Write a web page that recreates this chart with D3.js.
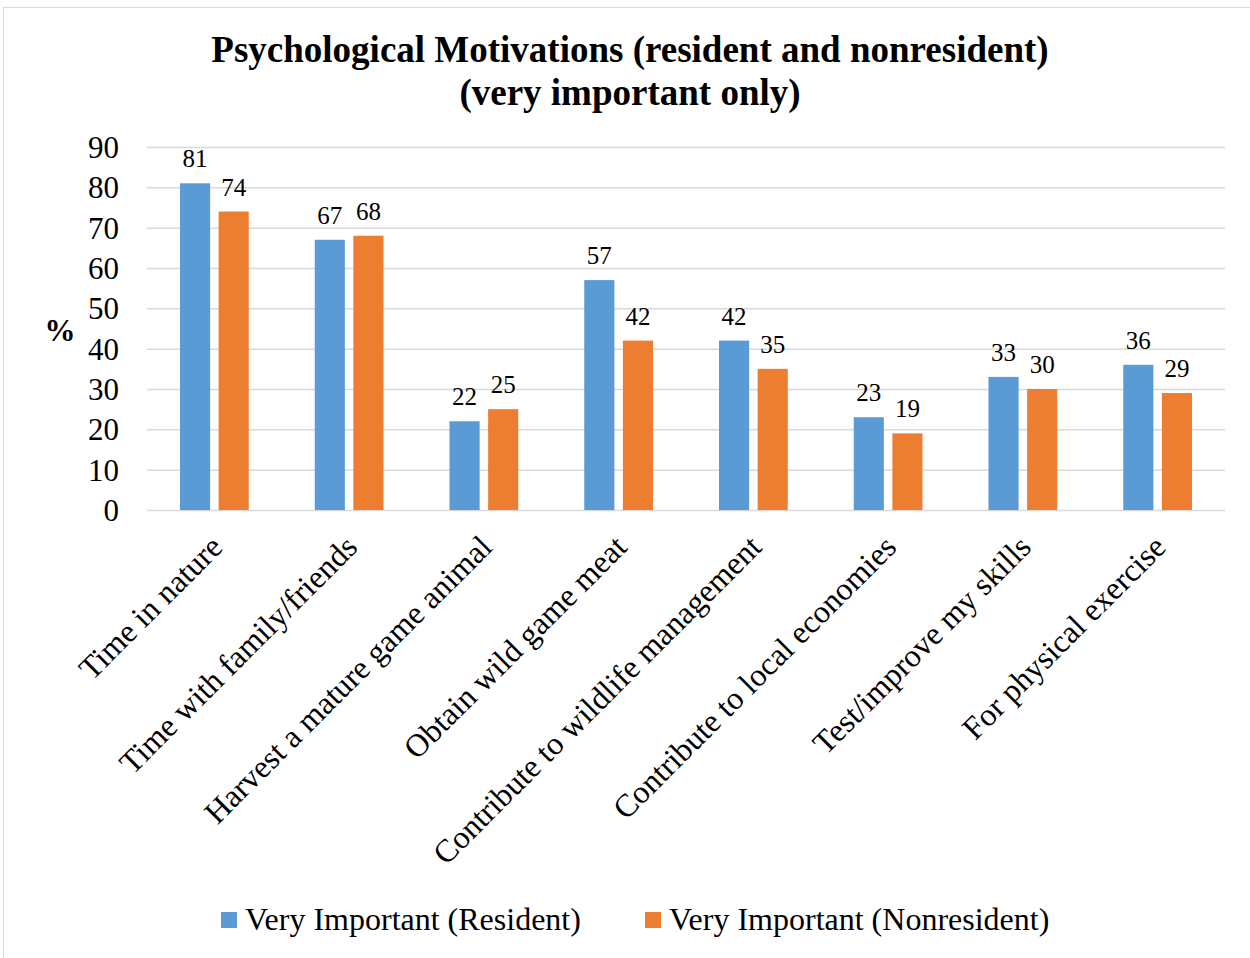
<!DOCTYPE html>
<html>
<head>
<meta charset="utf-8">
<script src="https://d3js.org/d3.v7.min.js"></script>
<style>
  body { margin: 0; background: #fff; }
  svg text { font-family: "Liberation Serif", "Times New Roman", serif; fill: #000; }
</style>
</head>
<body>
<div id="chart"></div>
<script>
var categories = ["Time in nature", "Time with family/friends", "Harvest a mature game animal",
    "Obtain wild game meat", "Contribute to wildlife management", "Contribute to local economies",
    "Test/improve my skills", "For physical exercise"];
var resident = [81, 67, 22, 57, 42, 23, 33, 36];
var nonresident = [74, 68, 25, 42, 35, 19, 30, 29];
var seriesNames = ["Very Important (Resident)", "Very Important (Nonresident)"];
var yTicks = [0, 10, 20, 30, 40, 50, 60, 70, 80, 90];

var colors = ["#5B9BD5", "#ED7D31"];

var W = 1250, H = 958;
var margin = { top: 147, right: 25, bottom: 448, left: 147 },
    width = W - margin.left - margin.right,
    height = H - margin.top - margin.bottom;

var svg = d3.select("#chart").append("svg")
    .attr("width", W)
    .attr("height", H);

// outer chart border
svg.append("rect")
    .attr("x", 3.5).attr("y", 7.5)
    .attr("width", W + 10).attr("height", H + 10)
    .attr("fill", "none").attr("stroke", "#d9d9d9").attr("stroke-width", 1);

svg.append("text")
    .attr("x", 630).attr("y", 62)
    .attr("text-anchor", "middle")
    .style("font-size", "37px").style("font-weight", "bold")
    .text("Psychological Motivations (resident and nonresident)");
svg.append("text")
    .attr("x", 630).attr("y", 105)
    .attr("text-anchor", "middle")
    .style("font-size", "37px").style("font-weight", "bold")
    .text("(very important only)");

var g = svg.append("g")
    .attr("transform", "translate(" + margin.left + "," + margin.top + ")");

var x0 = d3.scaleBand()
    .domain(categories)
    .range([0, width])
    .paddingInner(0)
    .paddingOuter(0);

var x1 = d3.scaleBand()
    .domain([0, 1])
    .range([33, x0.bandwidth() - 33])
    .paddingInner(0.22);

var y = d3.scaleLinear()
    .domain([0, 90])
    .range([height, 0]);

// grid
g.append("g")
    .attr("class", "grid")
    .call(d3.axisRight(y).tickValues(yTicks).tickSize(width).tickFormat(""))
    .call(function (s) {
        s.select(".domain").remove();
        s.selectAll("line").attr("stroke", "#d9d9d9").attr("stroke-width", 1.5);
    });

// y axis labels
g.append("g")
    .call(d3.axisLeft(y).tickValues(yTicks).tickSize(0).tickPadding(28))
    .call(function (s) {
        s.select(".domain").remove();
        s.selectAll("text").style("font-size", "31px").attr("dy", "0.34em");
    });

svg.append("text")
    .attr("x", 60).attr("y", 341)
    .attr("text-anchor", "middle")
    .style("font-size", "31px").style("font-weight", "bold")
    .text("%");

var data = categories.map(function (c, i) {
    return { cat: c, vals: [resident[i], nonresident[i]] };
});

var grp = g.selectAll(".grp")
    .data(data)
    .enter().append("g")
    .attr("transform", function (d) { return "translate(" + x0(d.cat) + ",0)"; });

grp.selectAll("rect")
    .data(function (d) { return d.vals; })
    .enter().append("rect")
    .attr("x", function (d, i) { return x1(i); })
    .attr("y", function (d) { return y(d); })
    .attr("width", x1.bandwidth())
    .attr("height", function (d) { return height - y(d); })
    .attr("fill", function (d, i) { return colors[i]; });

grp.selectAll(".val")
    .data(function (d) { return d.vals; })
    .enter().append("text")
    .attr("x", function (d, i) { return x1(i) + x1.bandwidth() / 2; })
    .attr("y", function (d) { return y(d) - 16; })
    .attr("text-anchor", "middle")
    .style("font-size", "25px")
    .text(function (d) { return d; });

// rotated category labels
g.selectAll(".xlab")
    .data(categories)
    .enter().append("text")
    .attr("text-anchor", "end")
    .attr("transform", function (d) {
        var cx = x0(d) + x0.bandwidth() / 2 + 10;
        return "translate(" + cx + "," + (height + 39) + ") rotate(-45)";
    })
    .style("font-size", "32px")
    .text(function (d) { return d; });

// legend
var legend = svg.append("g").attr("transform", "translate(0,920)");
var lx = [221, 645];
seriesNames.forEach(function (n, i) {
    legend.append("rect")
        .attr("x", lx[i]).attr("y", -8)
        .attr("width", 16).attr("height", 16)
        .attr("fill", colors[i]);
    legend.append("text")
        .attr("x", lx[i] + 24).attr("y", 10)
        .style("font-size", "32px")
        .text(n);
});
</script>
</body>
</html>
